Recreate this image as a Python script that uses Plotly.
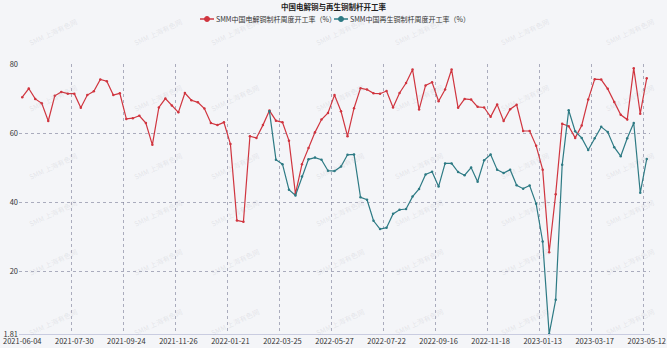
import plotly.graph_objects as go

title_text = "中国电解铜与再生铜制杆开工率"
series_names = ["SMM中国电解铜制杆周度开工率（%）", "SMM中国再生铜制杆周度开工率（%）"]
tick_labels = ["2021-06-04", "2021-07-30", "2021-09-24", "2021-11-26", "2022-01-21",
               "2022-03-25", "2022-05-27", "2022-07-22", "2022-09-16", "2022-11-18",
               "2023-01-13", "2023-03-17", "2023-05-12"]
tick_step = 8

electrolytic = [70.4, 72.9, 69.9, 68.6, 63.5, 70.8, 71.9, 71.4, 71.4, 67.3,
                71.0, 72.1, 75.5, 75.0, 71.0, 71.5, 64.1, 64.3, 65.0, 62.9,
                56.6, 67.4, 70.0, 68.0, 66.0, 71.6, 69.5, 68.9, 67.1, 62.9,
                62.3, 63.1, 56.8, 34.7, 34.3, 59.1, 58.6, 62.3, 66.5, 63.6,
                63.1, 57.8, 42.4, 51.0, 55.7, 60.2, 63.9, 65.8, 71.0, 66.3,
                59.1, 67.2, 73.0, 72.6, 71.5, 71.4, 72.2, 67.4, 71.6, 74.5,
                78.4, 66.8, 73.8, 74.7, 69.2, 72.6, 78.4, 67.3, 69.9, 69.7,
                67.6, 67.4, 64.7, 68.3, 63.5, 66.9, 68.2, 60.6, 60.6, 56.3,
                49.4, 25.5, 42.3, 62.7, 62.0, 58.6, 62.2, 69.7, 75.6, 75.5,
                72.8, 69.0, 65.3, 63.9, 78.8, 65.6, 75.9]

recycled_start = 38
recycled = [66.3, 52.3, 51.0, 43.6, 41.9, 47.4, 52.4, 52.9, 52.3, 49.1,
            49.0, 50.3, 53.7, 53.8, 41.4, 40.7, 34.6, 32.2, 32.6, 36.6,
            37.8, 38.0, 41.6, 43.8, 48.0, 48.8, 44.5, 51.2, 51.2, 48.7,
            47.8, 50.0, 45.9, 52.1, 53.8, 49.4, 48.4, 49.4, 44.9, 43.9,
            44.8, 39.5, 28.6, 1.81, 11.7, 50.8, 66.6, 60.5, 58.6, 55.1,
            58.5, 61.8, 60.3, 55.9, 53.3, 58.5, 62.9, 42.7, 52.5]

y_ticks = [1.81, 20, 40, 60, 80]

colors = ["#d0353f", "#2d7a84"]
bg = "#f4f5f8"
grid_color = "rgba(120,124,150,0.6)"
font_family = "Noto Sans CJK SC, Noto Sans, sans-serif"

n = len(electrolytic)
x_all = list(range(n))
recycled_full = [None] * recycled_start + recycled

fig = go.Figure()
for name, vals, col in [(series_names[0], electrolytic, colors[0]),
                        (series_names[1], recycled_full, colors[1])]:
    fig.add_trace(go.Scatter(
        x=x_all, y=vals, name=name, mode="lines+markers",
        line=dict(color=col, width=1.2),
        marker=dict(color=col, size=2.5),
        connectgaps=False, showlegend=False,
        cliponaxis=False,
    ))

major_x = list(range(0, n, tick_step))
boundaries = [v - 0.5 for v in major_x] + [n - 0.5]

fig.update_xaxes(
    range=[-0.5, n - 0.5], automargin=False,
    tickmode="array", tickvals=major_x, ticktext=tick_labels,
    showgrid=False, zeroline=False,
    showline=True, linecolor="#c9cce0", linewidth=1,
    ticks="", tickfont=dict(size=7.5, color="#333333", family=font_family),
    minor=dict(tickmode="array", tickvals=boundaries, showgrid=True,
               gridcolor=grid_color, griddash="dot", gridwidth=1, ticks=""),
)
fig.update_yaxes(
    range=[y_ticks[0], y_ticks[-1]], automargin=False,
    tickmode="array", tickvals=y_ticks, ticktext=[f"{v:g}" for v in y_ticks],
    showgrid=False, zeroline=False, showline=False, ticks="",
    tickfont=dict(size=7.5, color="#333333", family=font_family),
    minor=dict(tickmode="array", tickvals=y_ticks[1:], showgrid=True,
               gridcolor=grid_color, griddash="dot", gridwidth=1, ticks=""),
)

W, H = 667, 348
ml, mr, mt, mb = 19, 17, 64, 14
pw, ph = W - ml - mr, H - mt - mb

def px(x):
    return (x - ml) / pw

def py(y):
    return (H - mb - y) / ph

# watermarks
annotations = []
for cx in [25, 130, 235, 340, 447, 553, 658]:
    for cy in [14, 80, 148, 213, 280, 340]:
        annotations.append(dict(
            x=px(cx), y=py(cy), xref="paper", yref="paper",
            text="SMM 上海有色网", showarrow=False, textangle=-25,
            font=dict(size=7, color="rgba(160,160,170,0.2)", family=font_family),
        ))

annotations.append(dict(
    x=px(333.5), y=py(6.5), xref="paper", yref="paper", text="<b>" + title_text + "</b>",
    showarrow=False, xanchor="center", yanchor="middle",
    font=dict(size=7.5, color="#222222", family=font_family),
))

# legend (manual)
shapes = []
legend_items = [(207, series_names[0], colors[0]), (341, series_names[1], colors[1])]
for lx, name, col in legend_items:
    shapes.append(dict(type="line", xref="paper", yref="paper",
                       x0=px(lx - 7), x1=px(lx + 7), y0=py(19), y1=py(19),
                       line=dict(color=col, width=1.5)))
    shapes.append(dict(type="circle", xref="paper", yref="paper",
                       x0=px(lx - 2.5), x1=px(lx + 2.5), y0=py(21.5), y1=py(16.5),
                       line=dict(color=col, width=1), fillcolor=col))
    annotations.append(dict(
        x=px(lx + 7), y=py(19), xref="paper", yref="paper", text=name,
        showarrow=False, xanchor="left", yanchor="middle",
        font=dict(size=7, color="#333333", family=font_family),
    ))

fig.update_layout(
    width=W, height=H,
    margin=dict(l=ml, r=mr, t=mt, b=mb, pad=0, autoexpand=False),
    paper_bgcolor=bg, plot_bgcolor=bg,
    font=dict(family=font_family, size=7.5, color="#333333"),
    annotations=annotations, shapes=shapes,
    showlegend=False,
)

fig.write_html("out.html")
